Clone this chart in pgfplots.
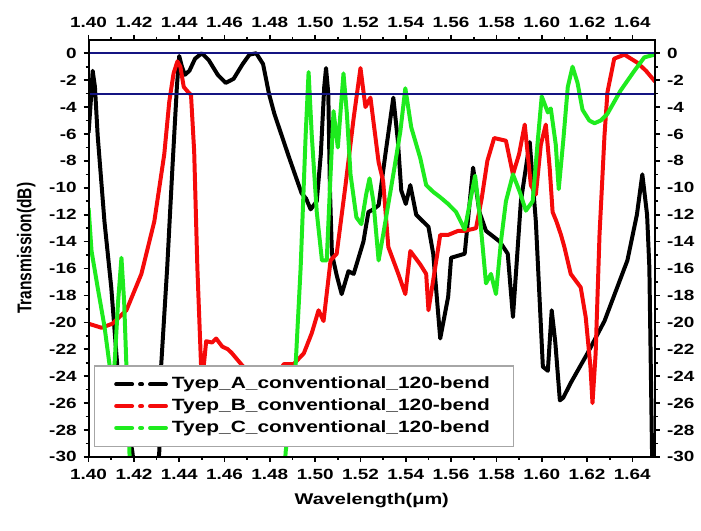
\documentclass[border=0pt]{standalone}
\usepackage{fontspec}
\setmainfont{Liberation Sans}
\usepackage{graphicx}
\usepackage{pgfplots}
\pgfplotsset{compat=1.18}
\definecolor{navyline}{RGB}{20,20,130}
\definecolor{cgreen}{RGB}{30,235,30}
\definecolor{cred}{RGB}{245,10,10}
\newcommand\sq[1]{\scalebox{1}[0.78]{#1}}
\newcommand\sqv[1]{\scalebox{0.78}[1]{#1}}
\pgfplotsset{common/.style={
  scale only axis, width=284.5pt, height=209.5pt,
  xmin=1.40, xmax=1.65, ymin=-30, ymax=1,
  xtick={1.40,1.42,1.44,1.46,1.48,1.50,1.52,1.54,1.56,1.58,1.60,1.62,1.64},
  xticklabels={\sq{1.40},\sq{1.42},\sq{1.44},\sq{1.46},\sq{1.48},\sq{1.50},\sq{1.52},\sq{1.54},\sq{1.56},\sq{1.58},\sq{1.60},\sq{1.62},\sq{1.64}},
  ytick={-30,-28,-26,-24,-22,-20,-18,-16,-14,-12,-10,-8,-6,-4,-2,0},
  yticklabels={\sq{-30},\sq{-28},\sq{-26},\sq{-24},\sq{-22},\sq{-20},\sq{-18},\sq{-16},\sq{-14},\sq{-12},\sq{-10},\sq{-8},\sq{-6},\sq{-4},\sq{-2},\sq{0}},
  minor x tick num=1, minor y tick num=1,
  tick align=outside, major tick length=2.5pt, minor tick length=1.5pt,
  axis line style={line width=1pt},
  every tick/.style={black, line width=0.8pt},
  tick label style={font=\fontsize{9.5}{10}\selectfont\bfseries},
  label style={font=\fontsize{10}{12}\selectfont\bfseries},
}}
\begin{document}
\begin{tikzpicture}
\begin{axis}[name=ax, common, tick pos=left,
  xlabel={\sq{Wavelength(μm)}},
  ylabel={\sqv{Transmission(dB)}},
  legend style={at={(0.009,0.024)}, anchor=south west, draw=gray!70, line width=0.6pt,
    fill=white, font=\fontsize{10.5}{12}\selectfont\bfseries, inner xsep=10pt, inner ysep=3.5pt,
    row sep=-0.5pt},
  legend cell align=left,
  legend image code/.code={\draw[#1, line cap=round, dash pattern=on 8pt off 4pt on 1pt off 4pt] (0pt,0pt) -- (25pt,0pt);},
  every axis plot/.append style={line width=2pt, line join=round},
]
\addplot[black] coordinates {
(1.400,-5.9)(1.4010,-3.5)(1.4018,-1.3)(1.4028,-2.5)(1.404,-6.1)(1.407,-12.5)(1.410,-17.4)
(1.4127,-23.3)(1.4193,-29.6)(1.421,-32)(1.430,-32)(1.4312,-29.6)(1.432,-23.3)(1.4347,-15.9)
(1.437,-8.5)(1.439,-2.4)(1.4400,-0.2)(1.4412,-1.0)(1.4425,-1.6)(1.4445,-1.3)(1.447,-0.4)
(1.4500,0)(1.4530,-0.5)(1.4570,-1.6)(1.4605,-2.2)(1.4640,-1.9)(1.4680,-0.8)(1.4710,-0.1)
(1.4740,0)(1.4770,-0.8)(1.4796,-3.0)(1.4820,-4.5)(1.4848,-5.9)(1.4884,-7.7)(1.4915,-9.2)
(1.494,-10.4)(1.496,-10.8)(1.498,-11.6)(1.5007,-11.0)(1.5025,-7.5)(1.5040,-2.5)(1.5048,-1.1)
(1.5058,-3.0)(1.5065,-10)(1.5074,-14.9)(1.5095,-16.5)(1.5117,-17.9)(1.5147,-16.2)(1.517,-16.4)
(1.5213,-14.0)(1.5235,-11.8)(1.5257,-11.6)(1.528,-11.3)(1.5310,-7.5)(1.5345,-3.3)(1.5365,-6.5)
(1.538,-10.2)(1.5400,-11.2)(1.5420,-9.8)(1.5446,-12.0)(1.550,-12.9)(1.5521,-14.9)(1.5552,-21.2)
(1.5587,-18.1)(1.560,-15.2)(1.566,-14.9)(1.5697,-8.5)(1.5725,-11.8)(1.5754,-13.2)(1.5815,-14.0)
(1.585,-14.9)(1.5873,-19.6)(1.5908,-11.0)(1.5947,-6.6)(1.5974,-12.5)(1.6005,-23.3)(1.6027,-23.6)
(1.6044,-19.1)(1.6060,-21.5)(1.608,-25.8)(1.6095,-25.6)(1.6128,-24.5)(1.6202,-22.3)(1.6277,-19.9)
(1.6378,-15.4)(1.6420,-12.0)(1.6444,-9.0)(1.6465,-12.0)(1.6475,-15.9)(1.6488,-31)
};
\addlegendentry{\sq{Tyep\_A\_conventional\_120-bend}}
\addplot[cred] coordinates {
(1.400,-20.1)(1.4057,-20.4)(1.4105,-20.1)(1.4167,-19.1)(1.4233,-16.4)(1.429,-12.5)(1.4334,-7.5)
(1.4356,-3.6)(1.4375,-1.5)(1.4392,-0.6)(1.4405,-1.0)(1.4420,-2.5)(1.4435,-2.8)(1.4452,-3.1)
(1.4466,-7.3)(1.448,-15.9)(1.4497,-23.5)(1.4505,-23.8)(1.4519,-21.4)(1.4545,-21.5)(1.4563,-21.2)
(1.459,-21.8)(1.4615,-22.0)(1.4633,-22.3)(1.4673,-23.1)(1.472,-24.0)(1.478,-24.3)(1.4835,-23.8)
(1.4862,-23.1)(1.4905,-23.1)(1.495,-22.3)(1.4985,-20.8)(1.5015,-19.1)(1.5037,-19.9)(1.5068,-15.4)
(1.5095,-14.9)(1.5134,-9.8)(1.517,-4.8)(1.5200,-1.1)(1.5222,-4.0)(1.5244,-3.3)(1.528,-8.1)
(1.530,-9.5)(1.5323,-14.4)(1.5367,-16.4)(1.5398,-17.9)(1.542,-14.7)(1.5464,-15.7)(1.549,-16.4)
(1.550,-19.1)(1.553,-15.9)(1.5552,-13.5)(1.5587,-13.5)(1.5631,-13.2)(1.5660,-13.2)(1.5710,-13.0)
(1.5735,-10.8)(1.5760,-8.0)(1.5790,-6.3)(1.5842,-6.5)(1.5873,-9.0)(1.5900,-7.5)(1.5925,-5.3)
(1.5952,-9.8)(1.5974,-10.5)(1.5996,-6.8)(1.6018,-5.3)(1.6035,-8.5)(1.6048,-11.8)(1.6065,-12.5)
(1.6085,-13.5)(1.610,-14.4)(1.6128,-16.4)(1.6172,-17.4)(1.6194,-19.6)(1.6215,-23.3)(1.6224,-26.0)
(1.6238,-22.3)(1.6255,-13.5)(1.6277,-6.1)(1.629,-2.9)(1.632,-0.4)(1.6365,-0.1)(1.6422,-0.7)
(1.6460,-1.3)(1.6500,-2.1)
};
\addlegendentry{\sq{Tyep\_B\_conventional\_120-bend}}
\addplot[cgreen] coordinates {
(1.400,-11.5)(1.4013,-14.7)(1.404,-17.4)(1.407,-20.3)(1.4092,-23.1)(1.4102,-25)(1.4115,-23)
(1.4130,-18.5)(1.4145,-15.2)(1.4157,-18.5)(1.4167,-23.3)(1.418,-29.5)(1.4185,-32)(1.486,-32)
(1.487,-29.6)(1.4914,-23.1)(1.4936,-15.9)(1.4958,-6.1)(1.4971,-1.4)(1.4985,-6.1)(1.5007,-11.8)
(1.503,-15.4)(1.5051,-15.4)(1.5068,-9.0)(1.5081,-4.3)(1.5100,-7.0)(1.5125,-1.5)(1.5140,-4.5)
(1.5156,-9.0)(1.5182,-12.2)(1.5204,-12.7)(1.5225,-10.5)(1.5240,-9.3)(1.5257,-11.0)(1.528,-15.4)
(1.530,-13.5)(1.5345,-9.0)(1.5376,-5.8)(1.5398,-2.6)(1.5424,-5.5)(1.5464,-7.8)(1.549,-9.8)
(1.5521,-10.3)(1.5552,-10.7)(1.5587,-11.2)(1.5622,-11.8)(1.5660,-13.1)(1.5706,-9.1)(1.5728,-12.3)
(1.5754,-17.1)(1.5776,-16.4)(1.5798,-17.9)(1.582,-14.0)(1.5842,-11.0)(1.5873,-9.0)(1.5903,-10.3)
(1.593,-11.7)(1.596,-11.0)(1.5982,-6.6)(1.600,-3.2)(1.6027,-4.4)(1.604,-4.1)(1.6062,-6.8)
(1.6075,-10.1)(1.6095,-6.5)(1.6115,-2.5)(1.6136,-1.0)(1.6158,-2.2)(1.618,-4.2)(1.6210,-5.0)
(1.6233,-5.2)(1.626,-5.0)(1.629,-4.5)(1.6347,-2.8)(1.6409,-1.3)(1.6453,-0.3)(1.650,-0.1)
};
\addlegendentry{\sq{Tyep\_C\_conventional\_120-bend}}
\addplot[navyline, line width=1pt, forget plot] coordinates {(1.40,0)(1.65,0)};
\addplot[navyline, line width=1pt, forget plot] coordinates {(1.40,-3)(1.65,-3)};
\end{axis}
\begin{axis}[common, tick pos=right]
\end{axis}
\path ([shift={(-44.5pt,-37pt)}]ax.south west) rectangle ([shift={(21.5pt,20pt)}]ax.north east);
\end{tikzpicture}
\end{document}
